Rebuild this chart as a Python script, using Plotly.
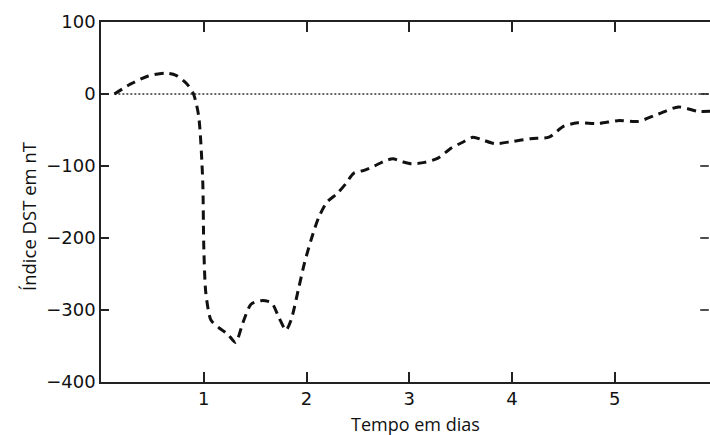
import plotly.graph_objects as go

# Data
days = [0.13, 0.29, 0.46, 0.63, 0.73, 0.83, 0.90, 0.95, 0.99, 1.00, 1.02, 1.07,
        1.15, 1.23, 1.31, 1.38, 1.46, 1.56, 1.66, 1.73, 1.80, 1.85, 1.92, 1.98,
        2.05, 2.12, 2.20, 2.30, 2.38, 2.46, 2.56, 2.66, 2.76, 2.84, 2.93, 3.02,
        3.15, 3.28, 3.41, 3.52, 3.62, 3.72, 3.83, 4.00, 4.18, 4.36, 4.50, 4.64,
        4.84, 5.03, 5.23, 5.42, 5.62, 5.81, 5.93]
dst = [0, 14, 25, 29, 26, 15, 0, -30, -120, -210, -276, -314,
       -325, -333, -345, -318, -292, -287, -290, -310, -328, -314, -272, -235,
       -200, -171, -150, -138, -125, -110, -106, -100, -93, -90, -94, -97,
       -95, -89, -75, -67, -60, -64, -69, -66, -62, -60, -45, -40,
       -41, -37, -38, -28, -18, -24, -24]

x_ticks = [1, 2, 3, 4, 5]
y_ticks = [100, 0, -100, -200, -300, -400]
x_range = [0, 5.927]
y_range = [-400, 100]

x_title = "Tempo em dias"
y_title = "Índice DST em nT"

fig = go.Figure()

fig.add_trace(go.Scatter(
    x=days, y=dst, mode="lines",
    line=dict(color="#111111", width=3, dash="9px,6px", shape="spline", smoothing=0.7),
    showlegend=False, hoverinfo="skip",
))

fig.add_shape(type="line", xref="x", yref="y",
              x0=days[0], x1=x_range[1], y0=0, y1=0,
              line=dict(color="#333333", width=1.5, dash="2px,2px"), layer="below")

tickfont = dict(family="DejaVu Sans", size=18, color="#111111")
line_color = "#222222"

fig.update_xaxes(range=x_range, tickvals=x_ticks, ticklen=10,
                 showgrid=False, zeroline=False, showline=True, linecolor=line_color,
                 linewidth=1.6, mirror="ticks", ticks="inside", tickcolor=line_color,
                 tickwidth=1.5, tickfont=tickfont)
fig.update_yaxes(range=y_range, tickvals=y_ticks, ticklen=8,
                 showgrid=False, zeroline=False, showline=True, linecolor=line_color,
                 linewidth=1.6, mirror=False, ticks="inside", tickcolor=line_color,
                 tickwidth=1.5, tickfont=tickfont)

# right-hand inner tick marks (the reference image is cropped just at the right border)
for v in y_ticks[1:-1]:
    fig.add_shape(type="line", xref="paper", yref="y", x0=0.984, x1=0.998, y0=v, y1=v,
                  line=dict(color=line_color, width=1.6), layer="above")

fig.add_annotation(text=x_title, xref="paper", yref="paper", x=0.517, y=-0.117,
                   xanchor="center", yanchor="middle", showarrow=False,
                   font=dict(family="Open Sans", size=18, color="#111111"))
fig.add_annotation(text=y_title, xref="paper", yref="paper", x=-0.12, y=0.461,
                   xanchor="center", yanchor="middle", showarrow=False, textangle=-90,
                   font=dict(family="Open Sans", size=18.5, color="#111111"))

fig.update_layout(
    width=710, height=435,
    margin=dict(l=101, r=0, t=22, b=53),
    paper_bgcolor="white", plot_bgcolor="white",
)

fig.write_html("out.html")
